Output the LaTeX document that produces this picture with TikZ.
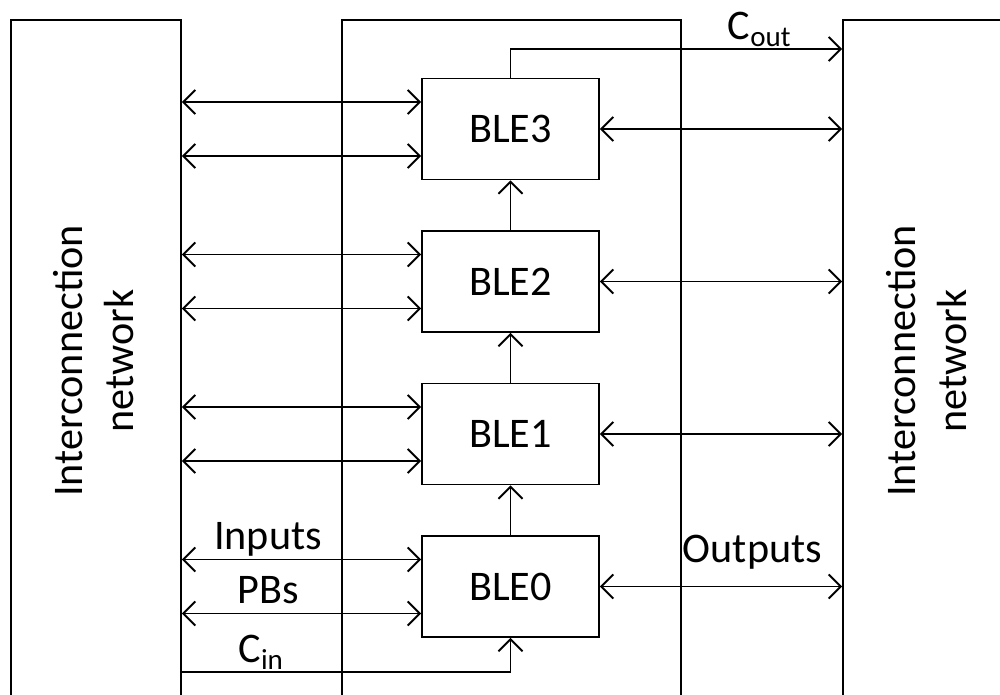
\documentclass[tikz,border=0pt]{standalone}
\usepackage{fontspec}
\setmainfont{Carlito}
\usetikzlibrary{arrows.meta,calc}

\newcommand{\subtxt}[2]{#1\raisebox{-0.35ex}{\fontsize{16.5}{16.5}\selectfont #2}}

\begin{document}
\begin{tikzpicture}[x=0.02cm, y=-0.02cm, line width=1.1pt, >={Straight Barb[length=2.4mm,width=4.8mm]},
	every node/.style={font=\fontsize{24}{29}\selectfont},
	ble/.style={draw, minimum width=3.54cm, minimum height=2.02cm, inner sep=0pt},
	panel/.style={draw, inner sep=0pt, anchor=north west, minimum height=15cm},
	lbl/.style={above, inner sep=3pt, text depth=0.2em}]
	
	\useasboundingbox (0,0) rectangle (1000,695);
	\clip (0,0) rectangle (1000,695);
	
	% interconnect and logic block
	\node[panel, minimum width=3.4cm] (netL) at (10,19) {};
	\node[panel, minimum width=6.78cm] (lb) at (341,19) {};
	\node[panel, minimum width=4.5cm] (netR) at (842,19) {};
	
	\node[rotate=90, align=center] (txtL) at (94,361) {Interconnection\\network};
	\node[rotate=90, align=center] (txtR) at (927,361) {Interconnection\\network};
	
	% BLEs
	\foreach \i in {0,...,3} {
		\node[ble] (ble\i) at (510.5, 586.5-152.5*\i) {BLE\i};
	}
	
	\foreach \i/\j in {0/1, 1/2, 2/3} {
		\draw[->] (ble\i) -- (ble\j);
	}
	
	\foreach \i in {1,...,3} {
		\foreach \d in {-27, 27} {
			\coordinate (p) at ($(ble\i.west)+(0,\d)$);
			\draw[<->] (netL.east |- p) -- (p);
		}
		\draw[<->] (ble\i.east) -- (netR.west |- ble\i.east);
	}
	
	% BLE0 with labels
	\coordinate (in0) at ($(ble0.west)+(0,-27)$);
	\coordinate (in1) at ($(ble0.west)+(0,27)$);
	\draw[<->] (netL.east |- in0) -- node[lbl, pos=0.36] {Inputs} (in0);
	\draw[<->] (netL.east |- in1) -- node[lbl, pos=0.36] {PBs} (in1);
	\draw[<->] (ble0.east) -- node[lbl, pos=0.63, yshift=8pt] {Outputs} (netR.west |- ble0.east);
	
	% carry chain
	\draw[->] (netL.east |- 0,672) -| node[above, pos=0.12, inner sep=1pt] {\subtxt{C}{in}} (ble0.south);
	\draw[->] (ble3.north) |- node[above, pos=0.875, inner sep=1pt] {\subtxt{C}{out}} (netR.west |- 0,49);
	
\end{tikzpicture}
\end{document}
